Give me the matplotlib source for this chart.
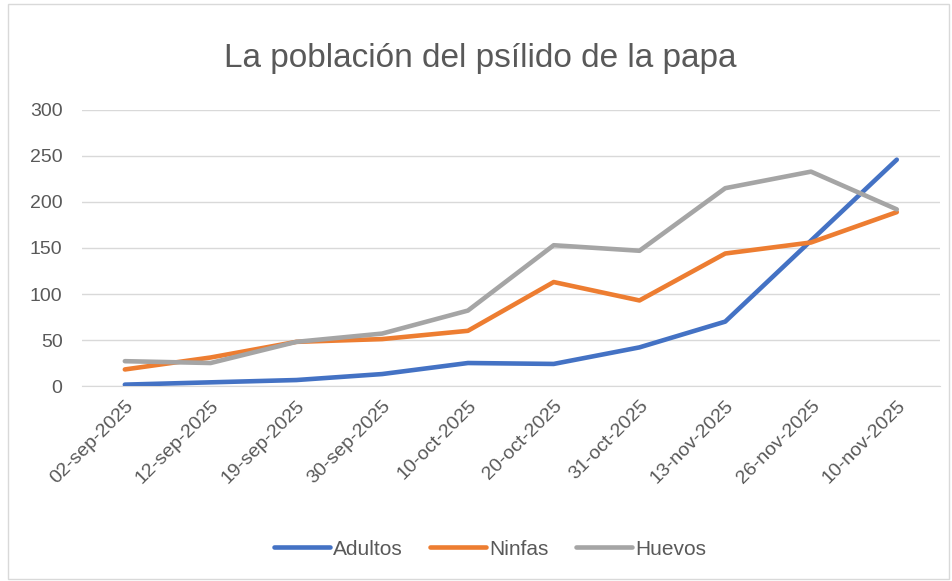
import matplotlib
matplotlib.use("Agg")
import matplotlib.pyplot as plt
from matplotlib.patches import Rectangle

fechas = ["02-sep-2025", "12-sep-2025", "19-sep-2025", "30-sep-2025", "10-oct-2025",
          "20-oct-2025", "31-oct-2025", "13-nov-2025", "26-nov-2025", "10-nov-2025"]
adultos = [1.5, 4, 6.5, 13, 25, 24, 42, 70, 158, 246]
ninfas = [18, 31, 48, 51, 60, 113, 93, 144, 156, 189]
huevos = [27, 25, 48, 57, 82, 153, 147, 215, 233, 192]
yticks = [0, 50, 100, 150, 200, 250, 300]

plt.rcParams['font.family'] = ['Liberation Sans', 'DejaVu Sans']
fig = plt.figure(figsize=(9.53, 5.81), dpi=100)
ax = fig.add_axes([0.086, 0.3356, 0.900, 0.4751])

x = list(range(len(fechas)))
ax.plot(x, adultos, color="#4472C4", lw=3.3, solid_capstyle="round", label="Adultos", zorder=3)
ax.plot(x, ninfas, color="#ED7D31", lw=3.3, solid_capstyle="round", label="Ninfas", zorder=3)
ax.plot(x, huevos, color="#A5A5A5", lw=3.3, solid_capstyle="round", label="Huevos", zorder=3)

ax.set_xlim(-0.5, len(fechas) - 0.5)
ax.set_ylim(0, 300)
ax.set_yticks(yticks)
ax.set_yticklabels([str(v) for v in yticks])
ax.set_xticks(x)
ax.set_xticklabels(fechas, rotation=45, ha="right", rotation_mode="anchor")
ax.tick_params(axis="both", length=0, colors="#595959", labelsize=14)
ax.tick_params(axis="x", pad=8)
ax.tick_params(axis="y", pad=14)
ax.grid(axis="y", color="#D9D9D9", lw=1)
ax.set_axisbelow(True)
for s in ["left", "right", "top"]:
    ax.spines[s].set_visible(False)
ax.spines["bottom"].set_color("#D9D9D9")

fig.text(0.504, 0.9, "La población del psílido de la papa", ha="center", va="center",
         fontsize=24, color="#595959")

leg = fig.legend(loc="center", bbox_to_anchor=(0.514, 0.055), ncol=3, frameon=False,
                 fontsize=15, handlelength=2.7, handletextpad=0.15, columnspacing=1.3)
for t in leg.get_texts():
    t.set_color("#595959")

fig.patches.append(Rectangle((0.008, 0.003), 0.988, 0.99, transform=fig.transFigure,
                             fill=False, edgecolor="#D9D9D9", lw=1))
fig.savefig("out.png", dpi=100)
